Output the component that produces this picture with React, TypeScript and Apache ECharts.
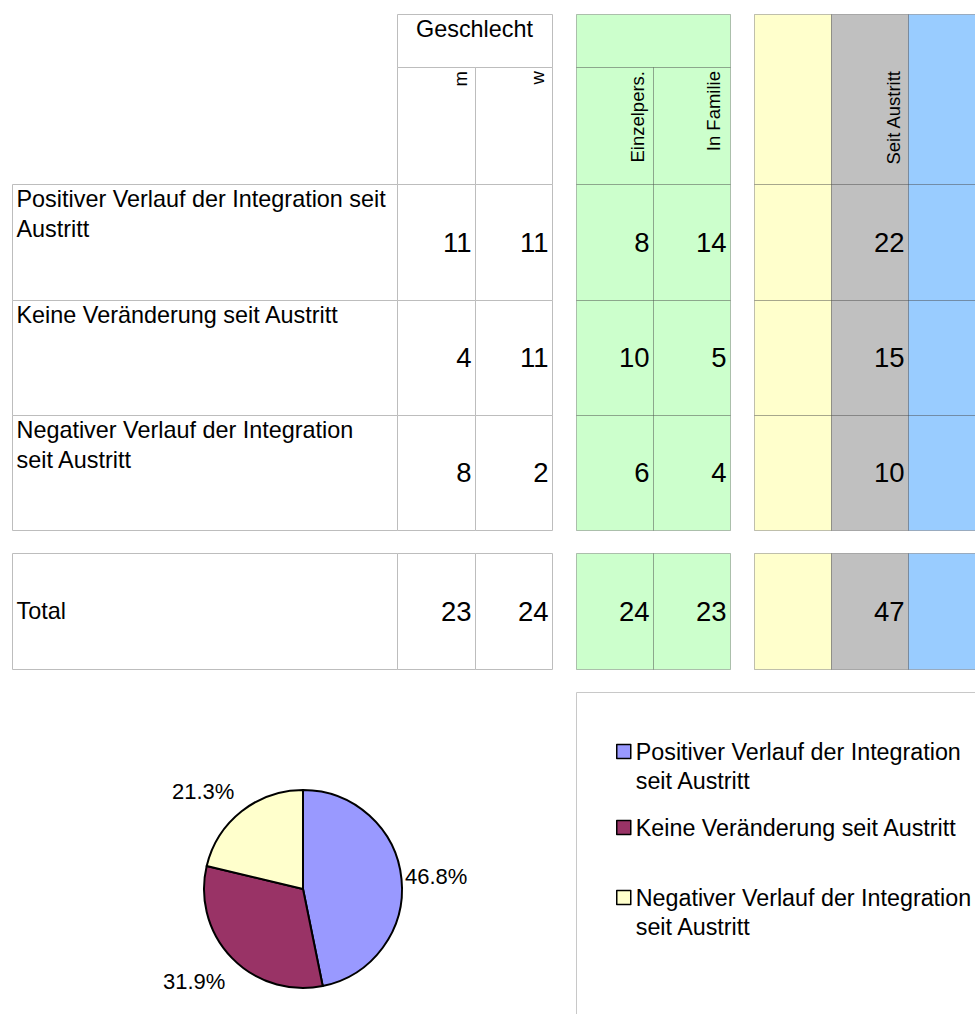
import React, { useEffect, useRef } from 'react';
import * as echarts from 'echarts';

// ---------- data ----------
const categories = [
  'Positiver Verlauf der Integration seit Austritt',
  'Keine Veränderung seit Austritt',
  'Negativer Verlauf der Integration seit Austritt',
];
const rowLabels = [
  'Positiver Verlauf der Integration seit\nAustritt',
  'Keine Veränderung seit Austritt',
  'Negativer Verlauf der Integration\nseit Austritt',
];
const totalLabel = 'Total';
const genderHeader = 'Geschlecht';
const columnHeaders = ['m', 'w', 'Einzelpers.', 'In Familie', '', 'Seit Austritt', ''];
const valuesM = [11, 4, 8];
const valuesW = [11, 11, 2];
const valuesEinzelpers = [8, 10, 6];
const valuesInFamilie = [14, 5, 4];
const valuesSeitAustritt = [22, 15, 10];
const totals = [23, 24, 24, 23, null, 47, null];
const columnValues = [valuesM, valuesW, valuesEinzelpers, valuesInFamilie, null, valuesSeitAustritt, null];

// ---------- layout / style ----------
const FONT = '"Liberation Sans", Arial, Helvetica, sans-serif';
const pieColors = ['#9999ff', '#993366', '#ffffcc'];
const WHITE_STROKE = '#bdbdbd';
const COLOR_STROKE = 'rgba(0,0,0,0.25)';
const colX = [
  [397, 475], [475, 552],
  [576, 653], [653, 730],
  [754, 831], [831, 908], [908, 1010],
];
const colFill = ['#ffffff', '#ffffff', '#ccffcc', '#ccffcc', '#ffffcc', '#c0c0c0', '#99ccff'];
const colStroke = [WHITE_STROKE, WHITE_STROKE, COLOR_STROKE, COLOR_STROKE, COLOR_STROKE, COLOR_STROKE, COLOR_STROKE];
const rowY = [[184, 300], [300, 415], [415, 530]];
const totalY = [553, 669];
const labelX = [12, 397];
const headerTop = 14;
const headerMid = 67;
const headerBottom = 184;
const rotatedAnchorX = [460.5, 537, 637, 713.5, 0, 893.5, 0];
const pieLabelPos = [[405, 876], [163, 981.5], [172, 791]];
const legendTops = [708, 813, 854];

function cell(x0: number, y0: number, x1: number, y1: number, fill: string, stroke: string) {
  return {
    type: 'rect',
    silent: true,
    shape: { x: x0 + 0.5, y: y0 + 0.5, width: x1 - x0, height: y1 - y0 },
    style: { fill, stroke, lineWidth: 1 },
  };
}

function txt(x: number, y: number, text: string, opts: any = {}) {
  const { rotation, ...style } = opts;
  const el: any = {
    type: 'text',
    silent: true,
    x,
    y,
    style: {
      text,
      fill: '#000',
      fontFamily: FONT,
      fontSize: 23.4,
      ...style,
    },
  };
  if (rotation) el.rotation = rotation;
  return el;
}

function buildGraphics() {
  const els: any[] = [];
  // header cells
  els.push(cell(colX[0][0], headerTop, colX[1][1], headerMid, '#ffffff', WHITE_STROKE));
  els.push(cell(colX[0][0], headerMid, colX[0][1], headerBottom, '#ffffff', WHITE_STROKE));
  els.push(cell(colX[1][0], headerMid, colX[1][1], headerBottom, '#ffffff', WHITE_STROKE));
  els.push(cell(colX[2][0], headerTop, colX[3][1], headerMid, colFill[2], COLOR_STROKE));
  els.push(cell(colX[2][0], headerMid, colX[2][1], headerBottom, colFill[2], COLOR_STROKE));
  els.push(cell(colX[3][0], headerMid, colX[3][1], headerBottom, colFill[3], COLOR_STROKE));
  for (let c = 4; c < 7; c++) {
    els.push(cell(colX[c][0], headerTop, colX[c][1], headerBottom, colFill[c], colStroke[c]));
  }
  // header texts
  els.push(txt((colX[0][0] + colX[1][1]) / 2, 29, genderHeader, { align: 'center', verticalAlign: 'middle' }));
  columnHeaders.forEach((h, c) => {
    if (!h) return;
    els.push(txt(rotatedAnchorX[c], 71, h, { rotation: Math.PI / 2, align: 'right', verticalAlign: 'middle', fontSize: 18.5 }));
  });
  // data rows
  rowY.forEach(([y0, y1], r) => {
    els.push(cell(labelX[0], y0, labelX[1], y1, '#ffffff', WHITE_STROKE));
    els.push(txt(16.5, y0, rowLabels[r], { align: 'left', verticalAlign: 'top', lineHeight: 30 }));
    colX.forEach(([x0, x1], c) => {
      els.push(cell(x0, y0, x1, y1, colFill[c], colStroke[c]));
      const vals = columnValues[c];
      if (vals) {
        els.push(txt(x1 - 3.5, (y0 + y1) / 2, String(vals[r]), { align: 'right', verticalAlign: 'middle', fontSize: 27.5 }));
      }
    });
  });
  // total row
  els.push(cell(labelX[0], totalY[0], labelX[1], totalY[1], '#ffffff', WHITE_STROKE));
  els.push(txt(16.5, (totalY[0] + totalY[1]) / 2, totalLabel, { align: 'left', verticalAlign: 'middle' }));
  colX.forEach(([x0, x1], c) => {
    els.push(cell(x0, totalY[0], x1, totalY[1], colFill[c], colStroke[c]));
    const t = totals[c];
    if (t !== null) {
      els.push(txt(x1 - 3.5, (totalY[0] + totalY[1]) / 2, String(t), { align: 'right', verticalAlign: 'middle', fontSize: 27.5 }));
    }
  });
  // legend box
  els.push({
    type: 'rect',
    silent: true,
    z: -1,
    shape: { x: 576.5, y: 692.5, width: 440, height: 400 },
    style: { fill: '#ffffff', stroke: '#c8c8c8', lineWidth: 1 },
  });
  return els;
}

function legendText(n: string) {
  // two-line entries: an empty first line keeps the marker level with the first text line
  return n.indexOf('Integration ') >= 0 ? ' \n' + n.replace('Integration ', 'Integration\n') : n;
}

function buildOption(): any {
  return {
    animation: false,
    backgroundColor: '#ffffff',
    graphic: { elements: buildGraphics() },
    legend: categories.map((name, i) => ({
      data: [name],
      left: 616,
      top: legendTops[i],
      orient: 'vertical',
      padding: 0,
      itemWidth: 14,
      itemHeight: 14,
      icon: 'rect',
      selectedMode: false,
      itemStyle: { borderColor: '#000', borderWidth: 1.5 },
      formatter: legendText,
      textStyle: {
        fontSize: 23.3,
        fontFamily: FONT,
        color: '#000',
        lineHeight: 29,
      },
    })),
    series: [
      {
        type: 'pie',
        center: [303, 889],
        radius: 99,
        startAngle: 90,
        clockwise: true,
        percentPrecision: 1,
        silent: true,
        emphasis: { disabled: true },
        itemStyle: { borderColor: '#000', borderWidth: 2 },
        label: {
          show: true,
          formatter: '{d}%',
          fontSize: 22,
          fontFamily: FONT,
          color: '#000',
        },
        labelLine: { show: false },
        labelLayout: (p: any) => ({
          x: pieLabelPos[p.dataIndex][0],
          y: pieLabelPos[p.dataIndex][1],
          align: 'left',
          verticalAlign: 'middle',
        }),
        data: categories.map((name, i) => ({
          name,
          value: valuesSeitAustritt[i],
          itemStyle: { color: pieColors[i] },
        })),
      },
    ],
  };
}

export default function App() {
  const ref = useRef<HTMLDivElement>(null);
  useEffect(() => {
    if (!ref.current) return;
    const chart = echarts.init(ref.current, null, { renderer: 'svg' });
    chart.setOption(buildOption());
    return () => chart.dispose();
  }, []);
  return (
    <div
      ref={ref}
      style={{ position: 'fixed', left: 0, top: 0, width: 975, height: 1014, background: '#fff' }}
    />
  );
}
